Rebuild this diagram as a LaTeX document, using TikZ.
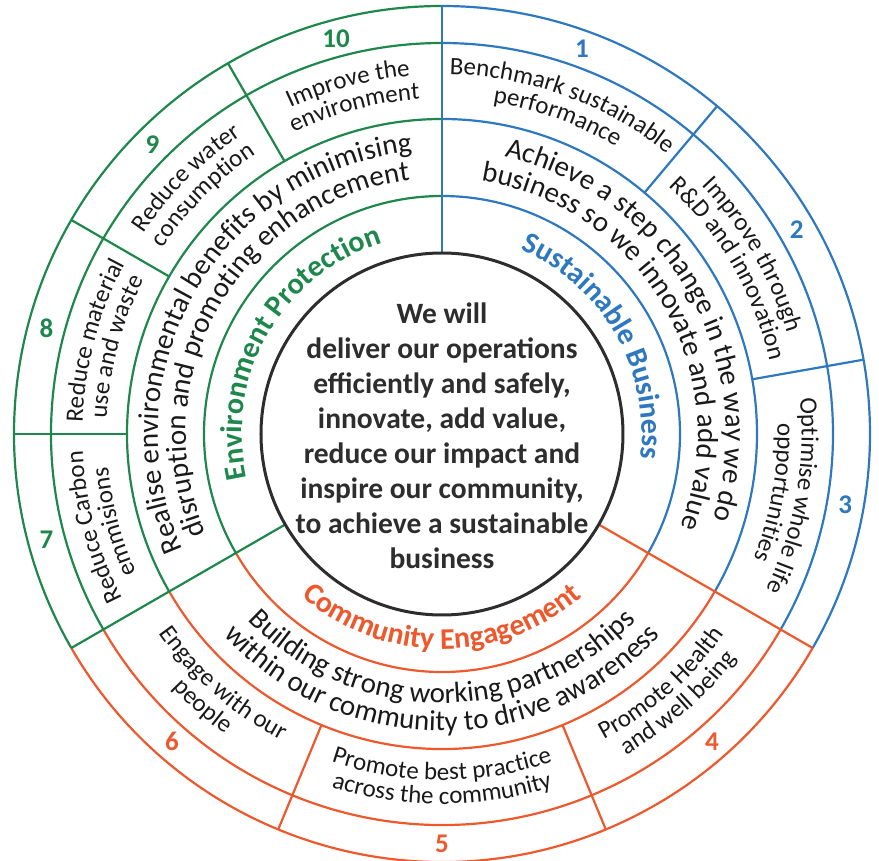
\documentclass[tikz,border=0pt]{standalone}
\usepackage{fontspec}
\usepackage{tikz}
\usetikzlibrary{decorations.text}
\newfontfamily\calib{Carlito}
\definecolor{wgreen}{RGB}{30,135,75}
\definecolor{wblue}{RGB}{45,120,190}
\definecolor{worange}{RGB}{238,88,45}
\definecolor{wgrey}{RGB}{45,45,45}
\definecolor{wink}{RGB}{25,25,25}
\newcommand{\itemfont}{\calib\fontsize{25}{30}\selectfont}
\newcommand{\aimfont}{\calib\fontsize{29}{34}\selectfont}
\newcommand{\headfont}{\calib\bfseries\fontsize{30}{34}\selectfont}
% curved text: upper half reads clockwise, lower half anticlockwise
\newcommand{\toparc}[4]{\path[decorate,decoration={text along path,text align=center,text color=#3,text={#4}}] (#1+90:#2) arc[start angle=#1+90,end angle=#1-90,radius=#2];}
\newcommand{\botarc}[4]{\path[decorate,decoration={text along path,text align=center,text color=#3,text={#4}}] (#1-90:#2) arc[start angle=#1-90,end angle=#1+90,radius=#2];}

\begin{document}
\begin{tikzpicture}[x=1pt,y=1pt,
  rim/.style={line width=2.2pt},
  num/.style={font=\calib\bfseries\fontsize{27}{30}\selectfont}]
\useasboundingbox (-442,-427) rectangle (437,434);
% Rings
\draw[rim,wblue] (90:238) arc[start angle=90,end angle=-30,radius=238];
\draw[rim,wblue] (90:315) arc[start angle=90,end angle=-30,radius=315];
\draw[rim,wblue] (90:391) arc[start angle=90,end angle=-30,radius=391];
\draw[rim,wblue] (90:428) arc[start angle=90,end angle=-30,radius=428];
\draw[rim,wgreen] (90:238) arc[start angle=90,end angle=210,radius=238];
\draw[rim,wgreen] (90:315) arc[start angle=90,end angle=210,radius=315];
\draw[rim,wgreen] (90:391) arc[start angle=90,end angle=210,radius=391];
\draw[rim,wgreen] (90:428) arc[start angle=90,end angle=210,radius=428];
\draw[rim,worange] (210:238) arc[start angle=210,end angle=330,radius=238];
\draw[rim,worange] (210:315) arc[start angle=210,end angle=330,radius=315];
\draw[rim,worange] (210:391) arc[start angle=210,end angle=330,radius=391];
\draw[rim,worange] (210:428) arc[start angle=210,end angle=330,radius=428];
% Sector and item dividers
\draw[rim,wblue] (90:181) -- (90:428);
\draw[rim,wgreen] (210:181) -- (210:428);
\draw[rim,worange] (330:181) -- (330:428);
\draw[rim,wblue] (50:315) -- (50:428);
\draw[rim,wblue] (10:315) -- (10:428);
\draw[rim,wgreen] (120:315) -- (120:428);
\draw[rim,wgreen] (150:315) -- (150:428);
\draw[rim,wgreen] (180:315) -- (180:428);
\draw[rim,worange] (247.5:315) -- (247.5:428);
\draw[rim,worange] (292.5:315) -- (292.5:428);
% Core
\draw[wgrey,line width=3pt,fill=white] (0,0) circle[radius=181];
\node[align=center,text=wgrey,font=\calib\bfseries\fontsize{29.5}{35}\selectfont] (core) at (0,-2)
  {We will\\deliver our operations\\efficiently and safely,\\innovate, add value,\\reduce our impact and\\inspire our community,\\to achieve a sustainable\\business};
% Sustainable Business
\toparc{30}{200}{wblue}{|\headfont|Sustainable Business}
\toparc{30}{284}{wink}{|\aimfont|Achieve a step change in the way we do}
\toparc{30}{256}{wink}{|\aimfont|business so we innovate and add value}
\toparc{70}{359.5}{wink}{|\itemfont|Benchmark sustainable}
\toparc{70}{335.5}{wink}{|\itemfont|performance}
\toparc{30}{359.5}{wink}{|\itemfont|Improve through}
\toparc{30}{335.5}{wink}{|\itemfont|R{\&}D and innovation}
\toparc{-10}{359.5}{wink}{|\itemfont|Optimise whole life}
\toparc{-10}{335.5}{wink}{|\itemfont|opportunities}
% Environment Protection
\toparc{150}{200}{wgreen}{|\headfont|Environment Protection}
\toparc{150}{284}{wink}{|\aimfont|Realise environmental benefits by minimising}
\toparc{150}{256}{wink}{|\aimfont|disruption and promoting enhancement}
\toparc{105}{359.5}{wink}{|\itemfont|Improve the}
\toparc{105}{335.5}{wink}{|\itemfont|environment}
\toparc{135}{359.5}{wink}{|\itemfont|Reduce water}
\toparc{135}{335.5}{wink}{|\itemfont|consumption}
\toparc{165}{359.5}{wink}{|\itemfont|Reduce material}
\toparc{165}{335.5}{wink}{|\itemfont|use and waste}
\toparc{195}{359.5}{wink}{|\itemfont|Reduce Carbon}
\toparc{195}{335.5}{wink}{|\itemfont|emmisions}
% Community Engagement
\botarc{270}{215}{worange}{|\headfont|Community Engagement}
\botarc{270}{269}{wink}{|\aimfont|Building strong working partnerships}
\botarc{270}{297}{wink}{|\aimfont|within our community to drive awareness}
\botarc{228.75}{346}{wink}{|\itemfont|Engage with our}
\botarc{228.75}{370}{wink}{|\itemfont|people}
\botarc{270}{346}{wink}{|\itemfont|Promote best practice}
\botarc{270}{370}{wink}{|\itemfont|across the community}
\botarc{311.25}{346}{wink}{|\itemfont|Promote Health}
\botarc{311.25}{370}{wink}{|\itemfont|and well being}
% Numbers
\node[num,wblue] (n1) at (70:409.5) {1};
\node[num,wblue] (n2) at (30:409.5) {2};
\node[num,wblue] (n3) at (-10:409.5) {3};
\node[num,worange] (n4) at (311.25:409.5) {4};
\node[num,worange] (n5) at (270:409.5) {5};
\node[num,worange] (n6) at (228.75:409.5) {6};
\node[num,wgreen] (n7) at (195:409.5) {7};
\node[num,wgreen] (n8) at (165:409.5) {8};
\node[num,wgreen] (n9) at (135:409.5) {9};
\node[num,wgreen] (n10) at (105:409.5) {10};
\end{tikzpicture}
\end{document}
